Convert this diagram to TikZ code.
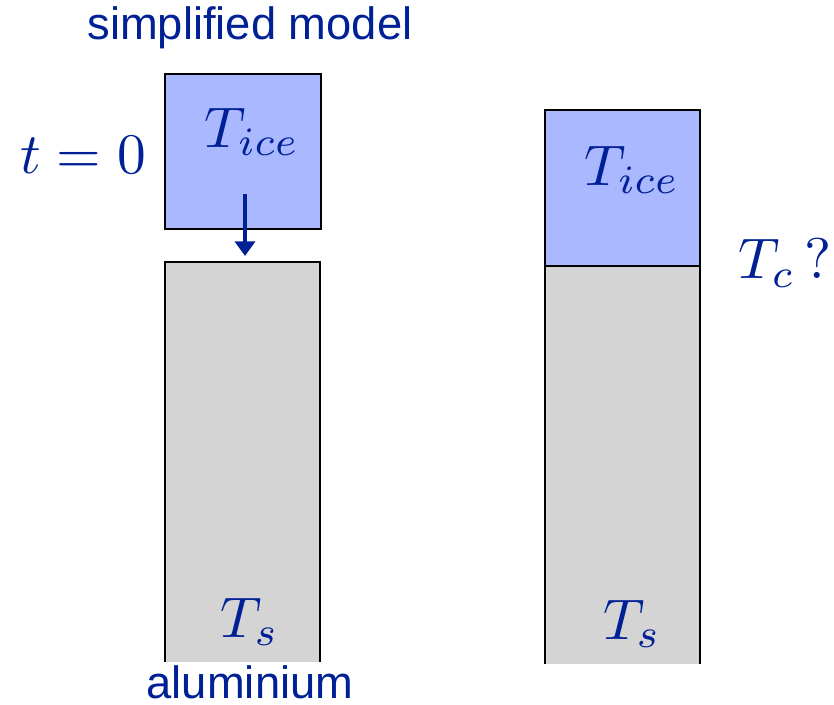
\documentclass[tikz,border=0pt]{standalone}
\usepackage{fontspec}
\setsansfont{Liberation Sans}
\usetikzlibrary{arrows.meta}
\definecolor{txtblue}{RGB}{0,32,150}
\definecolor{icefill}{RGB}{170,184,255}
\definecolor{alfill}{RGB}{212,212,212}
\begin{document}
\begin{tikzpicture}[x=0.75pt,y=-0.75pt,
  ice/.style={draw=black,line width=2.2pt,fill=icefill},
  alu/.style={fill=alfill},
  side/.style={draw=black,line width=2.2pt},
  mathlbl/.style={text=txtblue,font=\fontsize{10}{12}\selectfont,inner sep=0pt,scale=4.3},
  sanslbl/.style={text=txtblue,font=\sffamily\fontsize{34}{40}\selectfont,inner sep=0pt},
  flow/.style={draw=txtblue,line width=2.8pt,-{Triangle[length=11pt,width=15pt]}}]
\useasboundingbox (0,0) rectangle (834,704);
% left column
\fill[alu] (165,262) rectangle (320,662);
\draw[side] (165,662) -- (165,262) -- (320,262) -- (320,662);
\draw[ice] (165,74) rectangle (321,229);
\coordinate (astart) at (245,194);
\coordinate (aend) at (245,256);
\draw[flow] (astart) -- (aend);
% right column
\fill[alu] (545,266) rectangle (700,664);
\draw[side] (545,664) -- (545,266) -- (700,266) -- (700,664);
\draw[ice] (545,110) rectangle (700,266);
% labels
\node[sanslbl] (title) at (250,28) {simplified model};
\node[sanslbl] (alum) at (250,682) {aluminium};
\node[mathlbl] (t0) at (83,155) {$t=0$};
\node[mathlbl] (ti1) at (252,132) {$T_{ice}$};
\node[mathlbl] (ti2) at (632,170) {$T_{ice}$};
\node[mathlbl] (ts1) at (250,622) {$T_s$};
\node[mathlbl] (ts2) at (632,624) {$T_s$};
\node[mathlbl] (tc) at (785,263) {$T_c\,?$};
\end{tikzpicture}
\end{document}
